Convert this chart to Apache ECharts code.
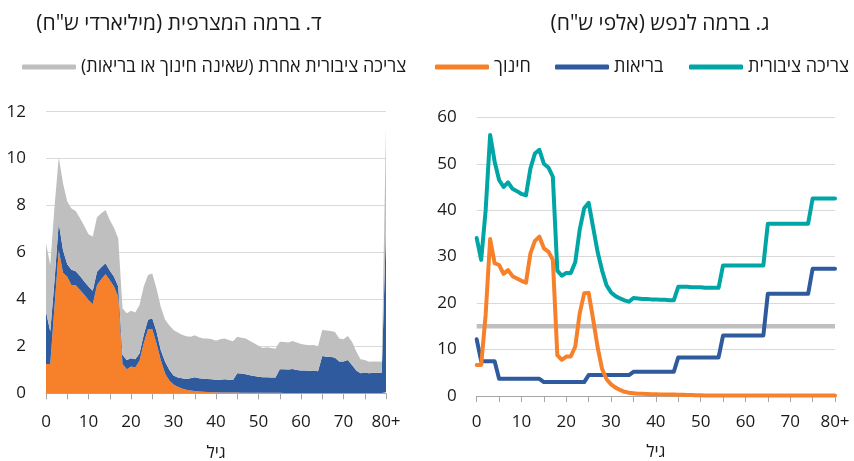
<!DOCTYPE html>
<html><head><meta charset="utf-8">
<script src="https://cdn.jsdelivr.net/npm/echarts@6/dist/echarts.min.js"></script>
<style>html,body{margin:0;padding:0;background:#fff}#c{width:854px;height:461px}</style>
</head><body><div id="c"></div>
<script>
// Categories: age 0..79 and 80+
const ages = [];
for (let i = 0; i < 80; i++) ages.push(String(i));
ages.push('80+');

// Panel ג: per capita (thousands NIS)
const perCapTotal = [34,29.3,40,56.2,50.5,46.5,45,46,44.6,44.1,43.5,43.2,49,52.2,53,50,49.2,47.2,27,25.9,
 26.5,26.5,28.8,35.8,40.4,41.6,36.3,31,27,23.8,22.3,21.5,21,20.6,20.3,21.1,21,20.9,20.9,20.8,
 20.8,20.7,20.7,20.6,20.6,23.5,23.5,23.5,23.4,23.4,23.4,23.3,23.3,23.3,23.3,28.1,28.1,28.1,28.1,28.1,
 28.1,28.1,28.1,28.1,28.1,37.1,37.1,37.1,37.1,37.1,37.1,37.1,37.1,37.1,37.1,42.5,42.5,42.5,42.5,42.5,42.5];
const perCapHealth = [12.2,7.5,7.5,7.5,7.5,3.7,3.7,3.7,3.7,3.7,3.7,3.7,3.7,3.7,3.7,3.0,3.0,3.0,3.0,3.0,
 3.0,3.0,3.0,3.0,3.0,4.5,4.5,4.5,4.5,4.5,4.5,4.5,4.5,4.5,4.5,5.2,5.2,5.2,5.2,5.2,
 5.2,5.2,5.2,5.2,5.2,8.3,8.3,8.3,8.3,8.3,8.3,8.3,8.3,8.3,8.3,13,13,13,13,13,
 13,13,13,13,13,22,22,22,22,22,22,22,22,22,22,27.4,27.4,27.4,27.4,27.4,27.4];
const perCapEdu = [6.7,6.7,17.5,33.8,28.6,28.2,26.3,27.1,25.8,25.3,24.8,24.4,30.7,33.4,34.3,31.8,31.1,29.3,8.8,7.8,
 8.5,8.5,10.6,17.8,22.1,22.2,16.5,10.5,5.8,3.6,2.5,1.8,1.3,0.9,0.7,0.6,0.5,0.5,0.45,0.4,
 0.4,0.35,0.3,0.3,0.3,0.25,0.25,0.2,0.2,0.15,0.15,0.1,0.1,0.1,0.1,0.1,0.1,0.1,0.1,0.1,
 0.1,0.1,0.1,0.1,0.1,0.1,0.1,0.1,0.1,0.1,0.1,0.1,0.1,0.1,0.1,0.1,0.1,0.1,0.1,0.1,0.1];
const perCapOther = [15,15,15,15,15,15,15,15,15,15,15,15,15,15,15,15,15,15,15,15,
 15,15,15,15,15,15,15,15,15,15,15,15,15,15,15,15,15,15,15,15,
 15,15,15,15,15,15,15,15,15,15,15,15,15,15,15,15,15,15,15,15,
 15,15,15,15,15,15,15,15,15,15,15,15,15,15,15,15,15,15,15,15,15];

// Panel ד: aggregate (billions NIS), stacked components
const aggEdu = [1.25,1.25,3.7,6.1,5.14,4.97,4.6,4.6,4.4,4.2,3.98,3.8,4.6,4.86,5.07,4.83,4.55,4.1,1.25,1.02,
 1.14,1.1,1.39,2.13,2.73,2.73,2.13,1.42,0.85,0.55,0.38,0.28,0.2,0.15,0.12,0.1,0.08,0.07,0.06,0.05,
 0.04,0.03,0.03,0.03,0.03,0.03,0.02,0.02,0.02,0.02,0.02,0.02,0.02,0.02,0.02,0.02,0.01,0.01,0.01,0.01,
 0.01,0.01,0.01,0.01,0.01,0.01,0.01,0.01,0.01,0.01,0.01,0.01,0.01,0.01,0.01,0.01,0.01,0.01,0.01,0.01,0.05];
const aggHealth = [2.23,1.38,1.1,1.17,0.96,0.53,0.66,0.6,0.6,0.56,0.57,0.57,0.58,0.51,0.47,0.4,0.42,0.45,0.38,0.4,
 0.35,0.35,0.31,0.36,0.4,0.47,0.5,0.43,0.5,0.45,0.38,0.39,0.44,0.46,0.52,0.58,0.56,0.55,0.55,0.55,
 0.54,0.55,0.57,0.55,0.54,0.82,0.82,0.79,0.75,0.72,0.68,0.66,0.66,0.65,0.65,1.0,1.01,1.0,1.03,0.98,
 0.96,0.96,0.94,0.96,0.93,1.58,1.55,1.55,1.51,1.34,1.34,1.41,1.2,0.96,0.84,0.88,0.84,0.87,0.87,0.87,7.0];
const aggOther = [2.91,2.84,3.15,2.79,2.85,2.67,2.62,2.57,2.46,2.37,2.23,2.31,2.32,2.3,2.27,2.16,2.09,2.05,1.99,1.99,
 2.03,1.99,2.06,2.06,1.91,1.91,1.84,1.84,1.8,1.9,1.94,1.92,1.85,1.82,1.77,1.79,1.75,1.72,1.72,1.7,
 1.66,1.72,1.73,1.69,1.65,1.56,1.53,1.52,1.46,1.39,1.33,1.25,1.28,1.26,1.23,1.18,1.17,1.15,1.19,1.17,
 1.13,1.1,1.1,1.09,1.06,1.11,1.12,1.1,1.09,0.99,0.95,1.02,0.99,0.81,0.6,0.53,0.49,0.48,0.47,0.46,4.3];

const RLM = '\u200F';
const nameTotal = 'צריכה ציבורית';
const nameHealth = 'בריאות';
const nameEdu = 'חינוך';
const nameOther = 'צריכה ציבורית אחרת (שאינה חינוך או בריאות)' + RLM;
const titleLeft = 'ד. ברמה המצרפית (מיליארדי ש"ח)' + RLM;
const titleRight = 'ג. ברמה לנפש (אלפי ש"ח)' + RLM;
const axisName = 'גיל';

const C_TEAL = '#00A5A6', C_BLUE = '#2F5A9E', C_ORANGE = '#F7812A', C_GRAY = '#BFBFBF';
const FONT = "'Open Sans', 'DejaVu Sans', sans-serif";
const txt = '#1a1a1a';

function xAxis(gi, margin, gap) {
  return {
    type: 'category', gridIndex: gi, data: ages, boundaryGap: false,
    axisLine: {lineStyle: {color: '#a6a6a6', width: 1}},
    axisTick: {show: true, interval: 4, length: 6, lineStyle: {color: '#a6a6a6'}},
    axisLabel: {interval: 9, margin: margin, color: txt, fontSize: 17, fontFamily: FONT},
    name: axisName, nameLocation: 'middle', nameGap: gap,
    nameTextStyle: {color: txt, fontSize: 17, fontFamily: FONT},
    splitLine: {show: false}
  };
}
function yAxis(gi, max, interval) {
  return {
    type: 'value', gridIndex: gi, min: 0, max: max, interval: interval,
    axisLine: {show: false}, axisTick: {show: false},
    axisLabel: {margin: 20, color: txt, fontSize: 17, fontFamily: FONT},
    splitLine: {lineStyle: {color: '#d9d9d9', width: 1}}
  };
}
function legend(name, left) {
  return {
    data: [name], left: left, top: 57, padding: 0, itemGap: 0,
    icon: 'roundRect', itemWidth: 54, itemHeight: 5,
    textStyle: {color: txt, fontSize: 18, fontFamily: FONT, lineHeight: 20}
  };
}

const chart = echarts.init(document.getElementById('c'));
chart.setOption({
  animation: false,
  textStyle: {fontFamily: FONT},
  title: [
    {text: titleLeft, left: 174, top: 9, textAlign: 'center',
     textStyle: {fontSize: 21, fontWeight: 'normal', color: txt, fontFamily: FONT}},
    {text: titleRight, left: 655, top: 9, textAlign: 'center',
     textStyle: {fontSize: 21, fontWeight: 'normal', color: txt, fontFamily: FONT}}
  ],
  legend: [legend(nameOther, 22), legend(nameEdu, 435), legend(nameHealth, 555), legend(nameTotal, 689)],
  grid: [
    {left: 46, top: 111.7, width: 340, height: 281.6, containLabel: false, outerBoundsMode: 'none'},
    {left: 476.7, top: 117.3, width: 358.3, height: 278.7, containLabel: false, outerBoundsMode: 'none'}
  ],
  xAxis: [xAxis(0, 20, 51), xAxis(1, 18, 48)],
  yAxis: [yAxis(0, 12, 2), yAxis(1, 60, 10)],
  series: [
    {name: nameEdu, type: 'line', xAxisIndex: 0, yAxisIndex: 0, stack: 'agg', data: aggEdu,
     symbol: 'none', lineStyle: {width: 0}, itemStyle: {color: C_ORANGE}, areaStyle: {color: C_ORANGE, opacity: 1}},
    {name: nameHealth, type: 'line', xAxisIndex: 0, yAxisIndex: 0, stack: 'agg', data: aggHealth,
     symbol: 'none', lineStyle: {width: 0}, itemStyle: {color: C_BLUE}, areaStyle: {color: C_BLUE, opacity: 1}},
    {name: nameOther, type: 'line', xAxisIndex: 0, yAxisIndex: 0, stack: 'agg', data: aggOther,
     symbol: 'none', lineStyle: {width: 0}, itemStyle: {color: C_GRAY}, areaStyle: {color: C_GRAY, opacity: 1}},

    {name: nameOther, type: 'line', xAxisIndex: 1, yAxisIndex: 1, data: perCapOther,
     symbol: 'none', lineStyle: {width: 4.5, color: C_GRAY}, itemStyle: {color: C_GRAY}},
    {name: nameTotal, type: 'line', xAxisIndex: 1, yAxisIndex: 1, data: perCapTotal,
     symbol: 'none', lineStyle: {width: 4, color: C_TEAL, cap: 'round', join: 'round'}, itemStyle: {color: C_TEAL}},
    {name: nameHealth, type: 'line', xAxisIndex: 1, yAxisIndex: 1, data: perCapHealth,
     symbol: 'none', lineStyle: {width: 4, color: C_BLUE, cap: 'round', join: 'round'}, itemStyle: {color: C_BLUE}},
    {name: nameEdu, type: 'line', xAxisIndex: 1, yAxisIndex: 1, data: perCapEdu,
     symbol: 'none', lineStyle: {width: 4, color: C_ORANGE, cap: 'round', join: 'round'}, itemStyle: {color: C_ORANGE}}
  ]
});
</script></body></html>
